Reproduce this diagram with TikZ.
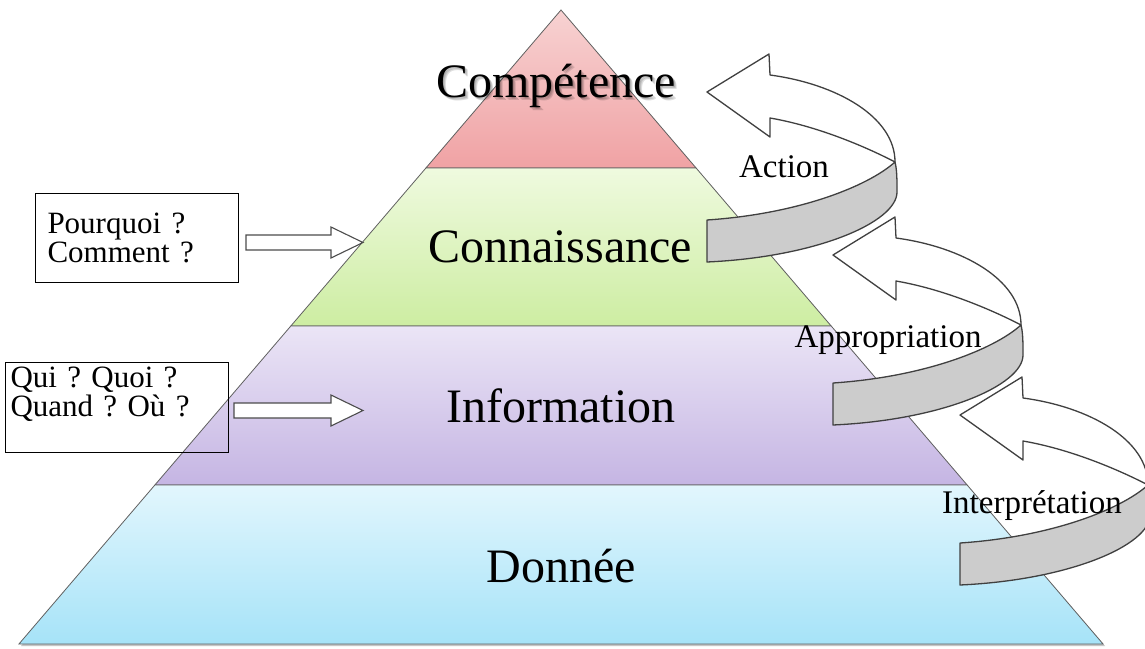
\documentclass[tikz,border=0pt]{standalone}
\usepackage{fontspec}
\setmainfont{Liberation Serif}
\usetikzlibrary{positioning}
\frenchspacing

% colours of the four levels
\definecolor{pinktop}{HTML}{F7D2D2}
\definecolor{pinkbot}{HTML}{F0A2A4}
\definecolor{greentop}{HTML}{EFFADF}
\definecolor{greenbot}{HTML}{CDEDA2}
\definecolor{lilactop}{HTML}{EBE5F6}
\definecolor{lilacbot}{HTML}{C5B5E3}
\definecolor{bluetop}{HTML}{E2F6FD}
\definecolor{bluebot}{HTML}{A6E3F8}

% fat arrow from a box towards the pyramid
\newcommand\blockarrow[2]{\draw[blockarrow] #1 -- ++(0,7.5) -- ++({#2-32},0) -- ++(0,8)
  -- ++(32,-15.5) -- ++(-32,-15.5) -- ++(0,8) -- ++({32-#2},0) -- cycle;}

\tikzset{
  level/.style={draw=gray!75!black, line width=0.8pt},
  bigword/.style={font=\fontsize{48}{50}\selectfont, anchor=base, inner sep=0pt},
  turnword/.style={font=\fontsize{33}{35}\selectfont, anchor=base, inner sep=0pt},
  qbox/.style={draw, line width=1pt, anchor=north west, align=left, inner ysep=0pt,
    font=\fontsize{31}{29}\selectfont},
  ribbon/.style={draw=black!75, line width=1.3pt, line join=round},
  blockarrow/.style={draw=black!70, fill=white, line width=1.1pt},
  pics/uturn/.style={code={
    % back of the ribbon, with the head
    \draw[ribbon, fill=white] (0,0) -- (62,-38) -- (63,-17)
      .. controls (130,-8) and (188,25) .. (188,70)
      .. controls (165,58) and (115,35) .. (63,26) -- (63,45) -- cycle;
    % front of the ribbon
    \draw[ribbon, fill=gray!40] (0,128) .. controls (90,122) and (160,95) .. (188,70)
      .. controls (190,78) and (190,88) .. (190,100)
      .. controls (190,130) and (110,165) .. (0,170) -- cycle;
  }}
}

\begin{document}
\begin{tikzpicture}[x=1pt,y=-1pt]
\useasboundingbox (0,0) rectangle (1145,648);
\clip (0,0) rectangle (1145,648);
\fill[white] (0,0) rectangle (1145,648);

% shadow of the pyramid
\fill[gray!45] (562.5,12) -- (1105,646) -- (21,646) -- cycle;

% the four levels
\foreach \ya/\yb/\ca/\cb in {10/168/pinktop/pinkbot, 168/326/greentop/greenbot,
    326/485/lilactop/lilacbot, 485/644/bluetop/bluebot}
  \shade[level, top color=\ca, bottom color=\cb]
    ({561-0.855*(\ya-10)},\ya) -- ({561+0.855*(\ya-10)},\ya)
    -- ({561+0.855*(\yb-10)},\yb) -- ({561-0.855*(\yb-10)},\yb) -- cycle;

% level names
\foreach \d in {1,2,3}
  \node[bigword, text=black, opacity=0.13] (compshadow\d) at (556+\d,97+\d) {Compétence};
\node[bigword] (comp) at (556,97) {Compétence};
\node[bigword] (conn) at (560,262) {Connaissance};
\node[bigword] (info) at (561,422) {Information};
\node[bigword] (data) at (561,582) {Donnée};

% questions
\node[qbox, text width=179pt, inner xsep=12pt, text height=40pt, text depth=49pt]
  (why) at (35,193) {Pourquoi ?\\Comment ?};
\node[qbox, text width=213pt, inner xsep=5pt, text height=25pt, text depth=65pt]
  (what) at (5,362) {Qui ? Quoi ?\\Quand ? Où ?};
\blockarrow{([xshift=7pt,yshift=-4.5pt]why.east)}{117}
\blockarrow{([xshift=5pt,yshift=-3pt]what.east)}{129}

% turning arrows
\foreach \tx/\ty in {707/92, 833/255, 960/415}
  \pic at (\tx,\ty) {uturn};

\node[turnword] (act) at (784,177) {Action};
\node[turnword] (appr) at (888,347) {Appropriation};
\node[turnword] (interp) at (1032,513) {Interprétation};

\end{tikzpicture}
\end{document}
